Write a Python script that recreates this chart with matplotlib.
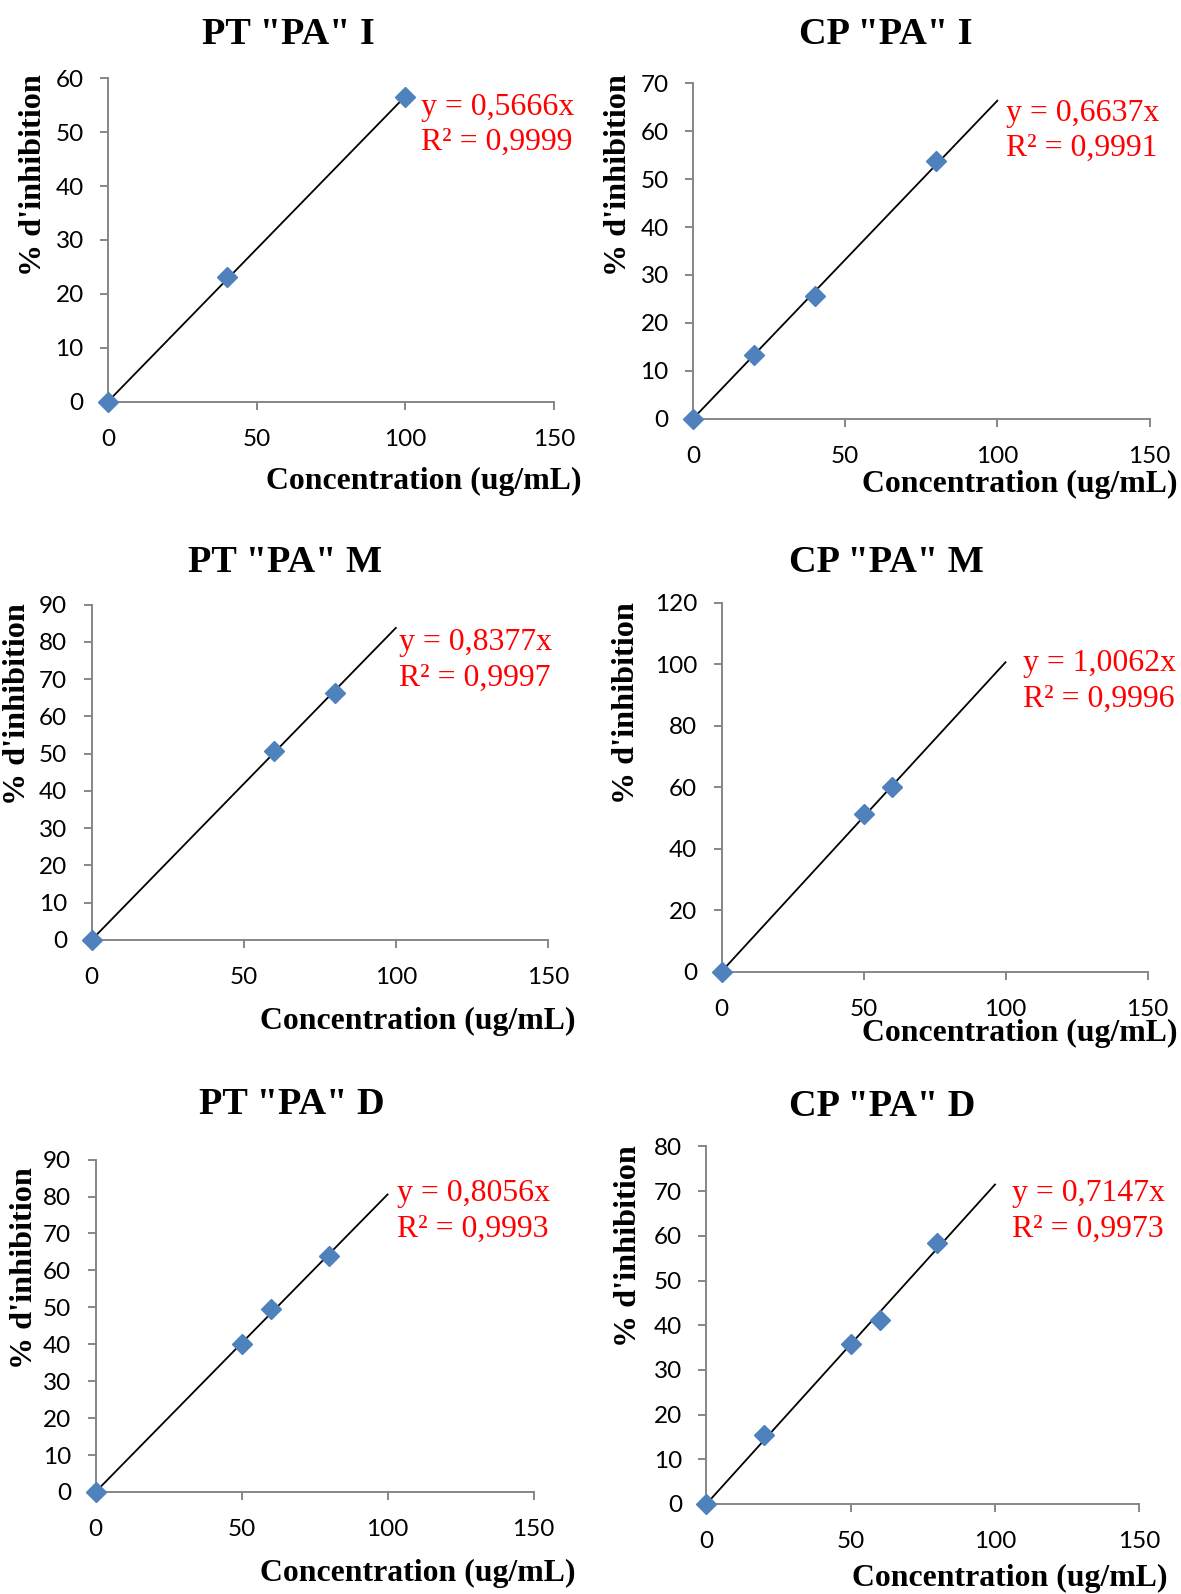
import matplotlib
matplotlib.use("Agg")
import matplotlib.pyplot as plt
import numpy as np

W, H = 1181, 1594

titles = ['PT "PA" I', 'CP "PA" I', 'PT "PA" M', 'CP "PA" M', 'PT "PA" D', 'CP "PA" D']
conc = [
    [0, 40, 100],
    [0, 20, 40, 80],
    [0, 60, 80],
    [0, 50, 60],
    [0, 50, 60, 80],
    [0, 20, 50, 60, 80],
]
inhib = [
    [0, 23.2, 56.5],
    [0, 13.3, 25.6, 53.8],
    [0, 50.8, 66.4],
    [0, 51.2, 59.9],
    [0, 40.2, 49.6, 63.9],
    [0, 15.4, 35.8, 41.1, 58.5],
]
slopes = [0.5666, 0.6637, 0.8377, 1.0062, 0.8056, 0.7147]
slope_txt = ["0,5666", "0,6637", "0,8377", "1,0062", "0,8056", "0,7147"]
r2_txt = ["0,9999", "0,9991", "0,9997", "0,9996", "0,9993", "0,9973"]
ymax = [60, 70, 90, 120, 90, 80]
ystep = [10, 10, 10, 20, 10, 10]
xticks = [0, 50, 100, 150]

# layout in pixels (left, right, bottom, top)
boxes = [
    (108, 554, 401.5, 78.3),
    (693, 1149.5, 418.7, 83.3),
    (91.5, 548, 940, 604.7),
    (721.5, 1147.5, 971.6, 602.7),
    (95.5, 533.6, 1492, 1159.6),
    (706.4, 1139.3, 1504, 1146.4),
]
title_pos = [(288, 34), (886, 34), (285, 563), (886, 563), (292, 1104), (882, 1107)]
ylab_pos = [(33.5, 175), (618, 175), (17.5, 704), (627, 703), (24.5, 1268), (628, 1246)]
xlab_pos = [(581, 481), (1178, 484), (575, 1021), (1178, 1033), (576, 1573), (1168, 1578)]
eq_pos = [(421, 107), (1006, 113), (399, 643), (1023, 664), (397, 1194), (1012, 1194)]

fig = plt.figure(figsize=(W / 100, H / 100), dpi=100)
fig.patch.set_facecolor("white")

def fx(x):
    return x / W

def fy(y):
    return 1 - y / H

serif = "Liberation Serif"
tickfont = "Lato"
axis_col = "#868686"

for i in range(6):
    l, r, b, t = boxes[i]
    ax = fig.add_axes([fx(l), fy(b), (r - l) / W, (b - t) / H])
    ax.set_xlim(0, 150)
    ax.set_ylim(0, ymax[i])
    ax.set_xticks(xticks)
    ax.set_yticks(np.arange(0, ymax[i] + 1, ystep[i]))
    for s in ["top", "right"]:
        ax.spines[s].set_visible(False)
    for s in ["left", "bottom"]:
        ax.spines[s].set_color(axis_col)
        ax.spines[s].set_linewidth(1.4)
    ax.tick_params(axis="both", direction="out", length=5.5, width=1.4,
                   color=axis_col, labelsize=17.5, pad=12)
    ax.tick_params(axis="x", pad=14)
    for lab in ax.get_xticklabels() + ax.get_yticklabels():
        lab.set_fontfamily(tickfont)
    # trendline
    xs = np.array([0, 100])
    ax.plot(xs, slopes[i] * xs, color="black", lw=1.3, zorder=2, clip_on=False)
    ax.plot(conc[i], inhib[i], linestyle="none", marker="D", ms=10,
            color="#4F81BD", zorder=3, clip_on=False)

    fig.text(fx(title_pos[i][0]), fy(title_pos[i][1]), titles[i], ha="center", va="center",
             fontsize=27.5, fontweight="bold", family=serif)
    fig.text(fx(ylab_pos[i][0]), fy(ylab_pos[i][1]), "% d'inhibition", ha="center", va="center",
             rotation=90, fontsize=23.2, fontweight="bold", family=serif)
    fig.text(fx(xlab_pos[i][0]), fy(xlab_pos[i][1]), "Concentration (ug/mL)", ha="right", va="center",
             fontsize=22.9, fontweight="bold", family=serif)
    ex, ey = eq_pos[i]
    fig.text(fx(ex), fy(ey), "y = " + slope_txt[i] + "x", ha="left", va="center",
             fontsize=22.9, color="#FF0000", family=serif)
    fig.text(fx(ex), fy(ey + 35.5), "R² = " + r2_txt[i], ha="left", va="center",
             fontsize=22.9, color="#FF0000", family=serif)

fig.savefig("out.png", dpi=100, facecolor="white")
